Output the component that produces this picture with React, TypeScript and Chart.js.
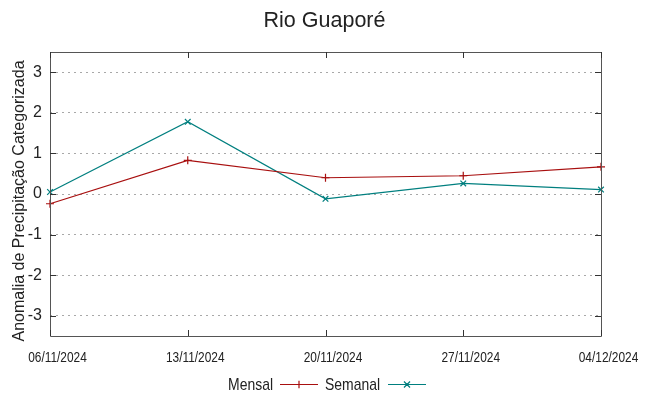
import React, { useEffect, useRef } from "react";
import { Chart, registerables } from "chart.js";

Chart.register(...registerables);

const titleText = "Rio Guaporé";
const yAxisTitle = "Anomalia de Precipitação Categorizada";
const categories = ["06/11/2024", "13/11/2024", "20/11/2024", "27/11/2024", "04/12/2024"];
const mensal = [-0.24, 0.83, 0.4, 0.45, 0.67];
const semanal = [0.05, 1.78, -0.12, 0.26, 0.11];
const yTicks = [-3, -2, -1, 0, 1, 2, 3];
const seriesNames = ["Mensal", "Semanal"];

const RED = "#a80f0f";
const TEAL = "#007f7f";
const REG = "'Liberation Sans', Arial, sans-serif";
const NARROW_SCALE = 0.82;

function narrowText(ctx: any, text: string, x: number, y: number, align: string) {
  ctx.save();
  ctx.translate(x, y);
  ctx.scale(NARROW_SCALE, 1);
  ctx.textAlign = align;
  ctx.fillText(text, 0, 0);
  ctx.restore();
}

const framePlugin = {
  id: "frame",
  afterDatasetsDraw(chart: any) {
    const { ctx, chartArea: a, scales } = chart;
    ctx.save();
    ctx.strokeStyle = "#555555";
    ctx.lineWidth = 1;
    ctx.beginPath();
    ctx.rect(Math.round(a.left) + 0.5, Math.round(a.top) + 0.5, Math.round(a.right - a.left), Math.round(a.bottom - a.top));
    ctx.stroke();
    ctx.strokeStyle = "#333333";
    ctx.beginPath();
    categories.forEach((_, i) => {
      const x = Math.round(scales.x.getPixelForValue(i)) + 0.5;
      ctx.moveTo(x, a.bottom);
      ctx.lineTo(x, a.bottom - 6);
      ctx.moveTo(x, a.top);
      ctx.lineTo(x, a.top + 6);
    });
    yTicks.forEach((v) => {
      const y = Math.round(scales.y.getPixelForValue(v)) + 0.5;
      ctx.moveTo(a.left, y);
      ctx.lineTo(a.left + 6, y);
      ctx.moveTo(a.right, y);
      ctx.lineTo(a.right - 6, y);
    });
    ctx.stroke();

    // x tick labels (condensed)
    ctx.fillStyle = "#222222";
    ctx.font = `14.5px ${REG}`;
    ctx.textBaseline = "alphabetic";
    categories.forEach((c, i) => {
      const x = scales.x.getPixelForValue(i) + 7.5;
      narrowText(ctx, c, x, a.bottom + 26, "center");
    });

    // y axis title
    ctx.save();
    ctx.font = `16px ${REG}`;
    ctx.textAlign = "center";
    ctx.textBaseline = "alphabetic";
    ctx.translate(24, 201);
    ctx.rotate(-Math.PI / 2);
    ctx.fillText(yAxisTitle, 0, 0);
    ctx.restore();
    ctx.restore();
  },
  afterDraw(chart: any) {
    const { ctx, width } = chart;
    ctx.save();
    ctx.fillStyle = "#222222";
    ctx.font = `21.5px ${REG}`;
    ctx.textAlign = "center";
    ctx.textBaseline = "alphabetic";
    ctx.fillText(titleText, width / 2, 27);

    // legend
    ctx.font = `17px ${REG}`;
    ctx.textBaseline = "alphabetic";
    const items = [
      { name: seriesNames[0], color: RED, textRight: 273, x0: 280, x1: 318, style: "cross" },
      { name: seriesNames[1], color: TEAL, textRight: 380, x0: 388, x1: 426, style: "crossRot" },
    ];
    const ly = 384.5;
    items.forEach((it) => {
      ctx.fillStyle = "#222222";
      narrowText(ctx, it.name, it.textRight, 390, "right");
      ctx.strokeStyle = it.color;
      ctx.lineWidth = 1.2;
      ctx.beginPath();
      ctx.moveTo(it.x0, ly);
      ctx.lineTo(it.x1, ly);
      const cx = (it.x0 + it.x1) / 2;
      const r = 3.8;
      if (it.style === "cross") {
        ctx.moveTo(cx, ly - r);
        ctx.lineTo(cx, ly + r);
      } else {
        ctx.moveTo(cx - r * 0.8, ly - r * 0.8);
        ctx.lineTo(cx + r * 0.8, ly + r * 0.8);
        ctx.moveTo(cx - r * 0.8, ly + r * 0.8);
        ctx.lineTo(cx + r * 0.8, ly - r * 0.8);
      }
      ctx.stroke();
    });
    ctx.restore();
  },
};

export default function App() {
  const ref = useRef<HTMLCanvasElement>(null);
  useEffect(() => {
    document.body.style.margin = "0";
    const chart = new Chart(ref.current!, {
      type: "line",
      data: {
        labels: categories,
        datasets: [
          {
            label: seriesNames[0],
            data: mensal,
            borderColor: RED,
            backgroundColor: RED,
            borderWidth: 1.2,
            pointStyle: "cross",
            pointRadius: 4,
            pointBorderWidth: 1.2,
            pointBorderColor: RED,
            tension: 0,
            clip: false as any,
          },
          {
            label: seriesNames[1],
            data: semanal,
            borderColor: TEAL,
            backgroundColor: TEAL,
            borderWidth: 1.2,
            pointStyle: "crossRot",
            pointRadius: 4,
            pointBorderWidth: 1.2,
            pointBorderColor: TEAL,
            tension: 0,
            clip: false as any,
          },
        ],
      },
      options: {
        animation: false,
        responsive: false,
        devicePixelRatio: 1,
        layout: { padding: { top: 52, right: 48, bottom: 0, left: 0 } },
        plugins: {
          legend: { display: false },
          title: { display: false },
          tooltip: { enabled: false },
        },
        scales: {
          x: {
            type: "category",
            offset: false,
            grid: { display: false, drawTicks: false },
            border: { display: false },
            ticks: { display: false, autoSkip: false, maxRotation: 0 },
            afterFit(scale: any) {
              scale.height = 60;
            },
          },
          y: {
            type: "linear",
            min: -3.5,
            max: 3.5,
            afterBuildTicks(scale: any) {
              scale.ticks = yTicks.map((v) => ({ value: v }));
            },
            grid: {
              drawTicks: false,
              color: "#a8a8a8",
              lineWidth: 1,
            },
            border: { display: false, dash: [2, 4] },
            ticks: {
              padding: 8,
              color: "#222222",
              font: { family: REG, size: 16 },
            },
            afterFit(scale: any) {
              scale.width = 50;
            },
          },
        },
      } as any,
      plugins: [framePlugin],
    });
    return () => chart.destroy();
  }, []);
  return <canvas ref={ref} width={649} height={396} style={{ display: "block" }} />;
}
